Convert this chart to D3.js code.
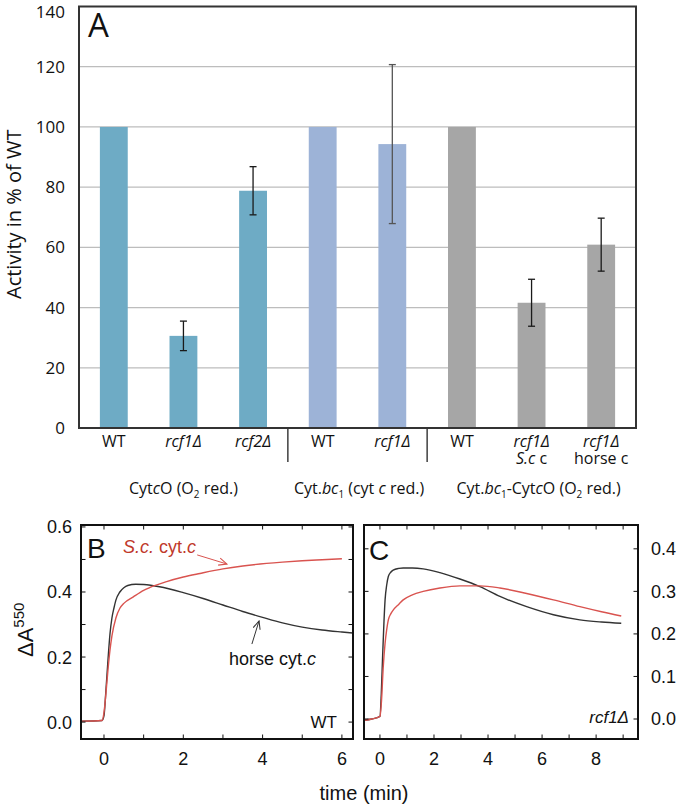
<!DOCTYPE html>
<html><head><meta charset="utf-8">
<script src="https://cdn.jsdelivr.net/npm/d3@7"></script>
<style>body{margin:0;background:#fff}svg{display:block}</style>
</head><body>
<svg id="c" width="679" height="808"></svg>
<script>
// ---------- Panel A data ----------
const categories = ["WT","rcf1Δ","rcf2Δ","WT","rcf1Δ","WT","rcf1Δ","rcf1Δ"];
const categoryItalic = [false,true,true,false,true,false,true,true];
const subLabels = ["","","","","","","S.c c","horse c"];
const values = [100,30.6,78.8,100,94.3,100,41.6,60.9];
const errors = [0,4.9,8.0,0,26.4,0,7.8,8.8];
const groupOf = [0,0,0,1,1,2,2,2];
const groupColors = ["#6EABC5","#9DB3D7","#A6A6A6"];
const yTicksA = [0,20,40,60,80,100,120,140];
const gridA = [20,40,60,80,100,120];

// ---------- Panel B data (WT) ----------
const tB_horse = [-0.58,-0.05,0.0,0.05,0.1,0.15,0.2,0.25,0.3,0.4,0.5,0.6,0.8,1.0,1.4,2.0,2.5,3.0,3.5,4.0,4.5,5.0,5.5,6.0,6.28];
const vB_horse = [0.003,0.005,0.02,0.10,0.19,0.27,0.32,0.35,0.375,0.40,0.413,0.42,0.424,0.423,0.416,0.398,0.38,0.36,0.34,0.322,0.305,0.292,0.283,0.277,0.274];
const tB_sc = [-0.58,-0.05,0.0,0.05,0.1,0.15,0.2,0.3,0.4,0.5,0.74,1.0,1.16,1.58,2.0,2.42,3.0,3.5,4.1,4.5,5.0,5.5,6.0];
const vB_sc = [0.003,0.005,0.03,0.09,0.16,0.22,0.265,0.32,0.35,0.365,0.385,0.405,0.414,0.432,0.446,0.457,0.471,0.48,0.488,0.492,0.496,0.499,0.502];
const xTicksB = [0,1,2,3,4,5,6];
const xLabelsB = [0,2,4,6];
const yTicksB = [0,0.1,0.2,0.3,0.4,0.5,0.6];
const yLabelsB = [0,0.2,0.4,0.6];

// ---------- Panel C data (rcf1Δ) ----------
const tC_horse = [-0.59,-0.3,0.0,0.05,0.1,0.15,0.19,0.25,0.31,0.4,0.49,0.7,0.86,1.2,1.6,2.22,2.96,3.7,4.44,5.43,6.42,7.4,8.2,8.93];
const vC_horse = [-0.003,0.0,0.006,0.06,0.15,0.23,0.28,0.315,0.335,0.345,0.35,0.354,0.355,0.355,0.353,0.344,0.329,0.311,0.288,0.264,0.245,0.233,0.228,0.225];
const tC_sc = [-0.59,-0.3,0.0,0.06,0.12,0.19,0.25,0.31,0.4,0.49,0.7,0.86,1.2,1.6,2.22,2.96,3.7,4.44,5.43,6.42,7.4,8.2,8.93];
const vC_sc = [-0.003,0.0,0.006,0.045,0.12,0.178,0.21,0.233,0.247,0.256,0.27,0.28,0.292,0.30,0.308,0.313,0.313,0.308,0.295,0.28,0.264,0.252,0.242];
const xTicksC = [0,1,2,3,4,5,6,7,8,9];
const xLabelsC = [0,2,4,6,8];
const yTicksC = [0,0.1,0.2,0.3,0.4];

const svg = d3.select("#c");
const fA = "'Open Sans', sans-serif";
const fB = "'Liberation Sans', Arial, sans-serif";

// rich text helper: parts [{t, i (italic), sub}]
function rich(sel, parts, size) {
  let shifted = false;
  parts.forEach(p => {
    const ts = sel.append("tspan").text(p.t);
    if (p.i) ts.attr("font-style","italic");
    if (p.sub) { ts.attr("font-size", size*0.62).attr("dy", 4); shifted = true; }
    else if (shifted) { ts.attr("dy", -4); shifted = false; }
  });
}

// ================= PANEL A =================
const A = {l:79, r:636, t:6.5, b:428};
const xA = d3.scaleBand().domain(d3.range(categories.length)).range([A.l, A.r]).paddingInner(0.6).paddingOuter(0.3);
const yA = d3.scaleLinear().domain([0,140]).range([A.b, A.t]);
const gA = svg.append("g");

gA.selectAll("line.grid").data(gridA).join("line")
  .attr("x1", A.l).attr("x2", A.r).attr("y1", d=>yA(d)).attr("y2", d=>yA(d))
  .attr("stroke","#BDBDBD").attr("stroke-width",1.3);

gA.selectAll("rect.bar").data(values).join("rect")
  .attr("x",(d,i)=>xA(i)).attr("width",xA.bandwidth())
  .attr("y",d=>yA(d)).attr("height",d=>yA(0)-yA(d))
  .attr("fill",(d,i)=>groupColors[groupOf[i]]);

const eb = gA.selectAll("g.err").data(values.map((v,i)=>({v,e:errors[i],i})).filter(d=>d.e>0)).join("g")
  .attr("stroke", d=>d.i===4?"#555":"#1a1a1a").attr("stroke-width",1.3);
eb.append("line").attr("x1",d=>xA(d.i)+xA.bandwidth()/2).attr("x2",d=>xA(d.i)+xA.bandwidth()/2)
  .attr("y1",d=>yA(d.v+d.e)).attr("y2",d=>yA(d.v-d.e));
[1,-1].forEach(s=>{
  eb.append("line").attr("x1",d=>xA(d.i)+xA.bandwidth()/2-3.5).attr("x2",d=>xA(d.i)+xA.bandwidth()/2+3.5)
    .attr("y1",d=>yA(d.v+s*d.e)).attr("y2",d=>yA(d.v+s*d.e));
});

gA.append("rect").attr("x",A.l).attr("y",A.t).attr("width",A.r-A.l).attr("height",A.b-A.t)
  .attr("fill","none").attr("stroke","#333").attr("stroke-width",2);

const axA = gA.append("g").attr("transform",`translate(${A.l},0)`)
  .call(d3.axisLeft(yA).tickValues(yTicksA).tickSize(0).tickPadding(14));
axA.select(".domain").remove();
axA.selectAll("text").attr("font-family",fA).attr("font-size",17).attr("fill","#111")
  .attr("dy", d => d===140 ? "0.62em" : "0.32em");

gA.append("text").attr("transform",`translate(21,${(yA(0)+yA(140))/2 - 3}) rotate(-90)`)
  .attr("text-anchor","middle").attr("font-family",fA).attr("font-size",20).attr("fill","#111")
  .text("Activity in % of WT");

gA.append("text").attr("x",88).attr("y",37).attr("font-family",fA).attr("font-size",33).attr("fill","#111").text("A");

// category labels (one text element per category, second line as tspan)
categories.forEach((c,i)=>{
  const cx = xA(i)+xA.bandwidth()/2;
  const t = gA.append("text").attr("x",cx).attr("y",447).attr("text-anchor","middle")
    .attr("font-family",fA).attr("font-size",16).attr("fill","#111");
  t.append("tspan").attr("x",cx).attr("font-style",categoryItalic[i]?"italic":"normal").text(c);
  if (subLabels[i]) {
    if (subLabels[i].startsWith("S.c")) {
      t.append("tspan").attr("x",cx).attr("dy",17).attr("font-style","italic").text("S.c");
      t.append("tspan").text(" c");
    } else {
      t.append("tspan").attr("x",cx).attr("dy",17).text(subLabels[i]);
    }
  }
});
// separators
[2,4].forEach(i=>{
  const sx = (xA(i)+xA(i+1)+xA.bandwidth())/2;
  gA.append("line").attr("x1",sx).attr("x2",sx).attr("y1",429).attr("y2",462).attr("stroke","#222").attr("stroke-width",1.3);
});
// group labels
const groupLabels = [
  [{t:"Cyt"},{t:"c",i:1},{t:"O (O"},{t:"2",sub:1},{t:" red.)"}],
  [{t:"Cyt."},{t:"bc",i:1},{t:"1",sub:1},{t:" (cyt "},{t:"c",i:1},{t:" red.)"}],
  [{t:"Cyt."},{t:"bc",i:1},{t:"1",sub:1},{t:"-Cyt"},{t:"c",i:1},{t:"O (O"},{t:"2",sub:1},{t:" red.)"}]
];
const groupMembers = [[0,1,2],[3,4],[5,6,7]];
const groupShift = [0,1.5,7];
groupLabels.forEach((parts,g)=>{
  const m = groupMembers[g];
  const cx = (xA(m[0]) + xA(m[m.length-1]) + xA.bandwidth())/2 + groupShift[g];
  const t = gA.append("text").attr("x",cx).attr("y",494).attr("text-anchor","middle")
    .attr("font-family",fA).attr("font-size",16).attr("fill","#111");
  rich(t,parts,16);
});

// ================= PANELS B & C =================
function frame(g, x, y, X, Y) {
  g.append("rect").attr("x",X[0]).attr("y",Y[1]).attr("width",X[1]-X[0]).attr("height",Y[0]-Y[1])
    .attr("fill","none").attr("stroke","#111").attr("stroke-width",2);
}
function ticks(g, x, y, X, Y, xt, yt) {
  const tl = 4.5;
  g.selectAll(null).data(xt).join("line").attr("x1",d=>x(d)).attr("x2",d=>x(d)).attr("y1",Y[0]).attr("y2",Y[0]-tl).attr("stroke","#111");
  g.selectAll(null).data(xt).join("line").attr("x1",d=>x(d)).attr("x2",d=>x(d)).attr("y1",Y[1]).attr("y2",Y[1]+tl).attr("stroke","#111");
  g.selectAll(null).data(yt).join("line").attr("y1",d=>y(d)).attr("y2",d=>y(d)).attr("x1",X[0]).attr("x2",X[0]+tl).attr("stroke","#111");
  g.selectAll(null).data(yt).join("line").attr("y1",d=>y(d)).attr("y2",d=>y(d)).attr("x1",X[1]).attr("x2",X[1]-tl).attr("stroke","#111");
}
const red = "#D9534F", blk = "#333";

// ---- B ----
const XB=[81,353], YB=[739,525];
const xB = d3.scaleLinear().domain([-0.58,6.28]).range(XB);
const yB = d3.scaleLinear().domain([-0.052,0.606]).range(YB);
const gB = svg.append("g");
const lineB = d3.line().x(d=>xB(d[0])).y(d=>yB(d[1])).curve(d3.curveMonotoneX);
gB.append("path").attr("d",lineB(d3.zip(tB_horse,vB_horse))).attr("fill","none").attr("stroke",blk).attr("stroke-width",1.4);
gB.append("path").attr("d",lineB(d3.zip(tB_sc,vB_sc))).attr("fill","none").attr("stroke",red).attr("stroke-width",1.4);
ticks(gB,xB,yB,XB,YB,xTicksB,yTicksB);
frame(gB,xB,yB,XB,YB);
gB.selectAll(null).data(yLabelsB).join("text").attr("x",72).attr("y",d=>yB(d)).attr("dy","0.36em")
  .attr("text-anchor","end").attr("font-family",fB).attr("font-size",18).attr("fill","#111").text(d=>d.toFixed(1));
gB.selectAll(null).data(xLabelsB).join("text").attr("x",d=>xB(d)).attr("y",765)
  .attr("text-anchor","middle").attr("font-family",fB).attr("font-size",18).attr("fill","#111").text(d=>d);
gB.append("text").attr("x",87).attr("y",558).attr("font-family",fB).attr("font-size",28).attr("fill","#111").text("B");

// annotations B
const defs = svg.append("defs");
[["ar",red],["ab",blk]].forEach(([id,c])=>{
  defs.append("marker").attr("id",id).attr("viewBox","0 0 10 10").attr("refX",9).attr("refY",5)
    .attr("markerWidth",9).attr("markerHeight",9).attr("markerUnits","userSpaceOnUse").attr("orient","auto")
    .append("path").attr("d","M0,1 L9,5 L0,9").attr("fill","none").attr("stroke",c).attr("stroke-width",1.2);
});
const arrowRed = [[2.35,0.514],[3.1,0.486]];
const arrowBlk = [[3.73,0.24],[3.91,0.311]];
gB.append("line").attr("x1",xB(arrowRed[0][0])).attr("y1",yB(arrowRed[0][1])).attr("x2",xB(arrowRed[1][0])).attr("y2",yB(arrowRed[1][1]))
  .attr("stroke",red).attr("stroke-width",1).attr("marker-end","url(#ar)");
gB.append("line").attr("x1",xB(arrowBlk[0][0])).attr("y1",yB(arrowBlk[0][1])).attr("x2",xB(arrowBlk[1][0])).attr("y2",yB(arrowBlk[1][1]))
  .attr("stroke",blk).attr("stroke-width",1).attr("marker-end","url(#ab)");
const tSc = gB.append("text").attr("x",xB(0.48)).attr("y",yB(0.52)).attr("font-family",fB).attr("font-size",18).attr("fill","#C0392B");
rich(tSc,[{t:"S.c.",i:1},{t:" cyt."},{t:"c",i:1}],18);
const tH = gB.append("text").attr("x",xB(3.15)).attr("y",yB(0.175)).attr("font-family",fB).attr("font-size",18).attr("fill","#111");
rich(tH,[{t:"horse cyt."},{t:"c",i:1}],18);
gB.append("text").attr("x",337).attr("y",728).attr("text-anchor","end").attr("font-family",fB).attr("font-size",17).attr("fill","#111").text("WT");

// y-axis label ΔA550
const yl = svg.append("text").attr("transform",`translate(33,657) rotate(-90)`).attr("font-family",fB).attr("font-size",22).attr("fill","#111");
yl.append("tspan").text("ΔA");
yl.append("tspan").attr("font-size",15).attr("dy",-9).text("550");

// ---- C ----
const XC=[364,638], YC=[739,525];
const xC = d3.scaleLinear().domain([-0.59,9.55]).range(XC);
const yC = d3.scaleLinear().domain([-0.047,0.456]).range(YC);
const gC = svg.append("g");
const lineC = d3.line().x(d=>xC(d[0])).y(d=>yC(d[1])).curve(d3.curveMonotoneX);
gC.append("path").attr("d",lineC(d3.zip(tC_horse,vC_horse))).attr("fill","none").attr("stroke",blk).attr("stroke-width",1.4);
gC.append("path").attr("d",lineC(d3.zip(tC_sc,vC_sc))).attr("fill","none").attr("stroke",red).attr("stroke-width",1.4);
ticks(gC,xC,yC,XC,YC,xTicksC,yTicksC);
frame(gC,xC,yC,XC,YC);
gC.selectAll(null).data(yTicksC).join("text").attr("x",651).attr("y",d=>yC(d)).attr("dy","0.36em")
  .attr("font-family",fB).attr("font-size",18).attr("fill","#111").text(d=>d.toFixed(1));
gC.selectAll(null).data(xLabelsC).join("text").attr("x",d=>xC(d)).attr("y",765)
  .attr("text-anchor","middle").attr("font-family",fB).attr("font-size",18).attr("fill","#111").text(d=>d);
gC.append("text").attr("x",369).attr("y",560).attr("font-family",fB).attr("font-size",28).attr("fill","#111").text("C");
gC.append("text").attr("x",629).attr("y",723).attr("text-anchor","end").attr("font-family",fB).attr("font-size",17)
  .attr("font-style","italic").attr("fill","#111").text("rcf1Δ");

svg.append("text").attr("x",364).attr("y",800).attr("text-anchor","middle").attr("font-family",fB).attr("font-size",20).attr("fill","#111").text("time (min)");
</script>
</body></html>
